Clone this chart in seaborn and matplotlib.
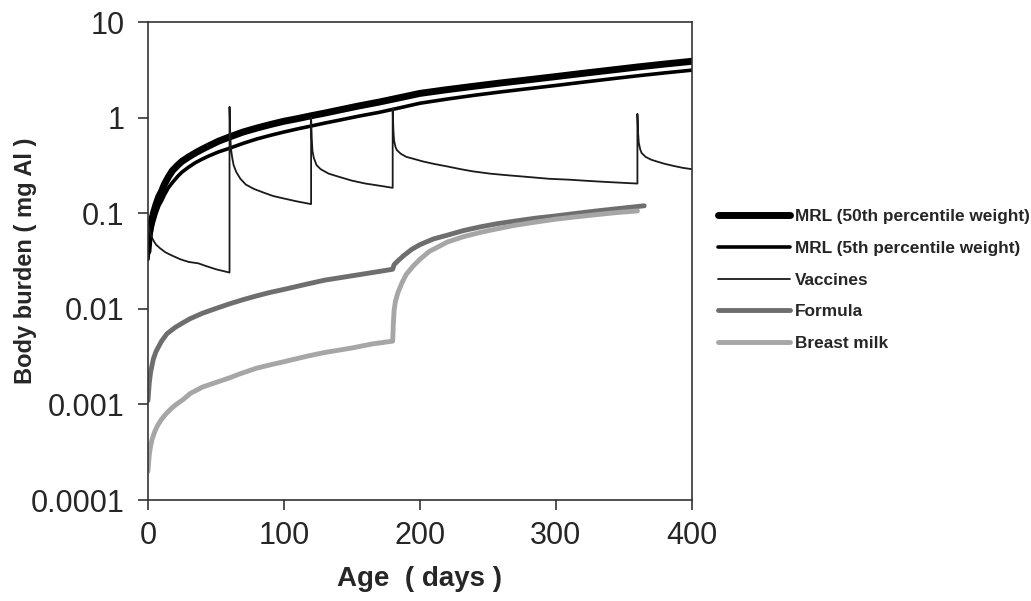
import numpy as np
import pandas as pd
import matplotlib
matplotlib.use("Agg")
import matplotlib.pyplot as plt
import seaborn as sns

# ==========================================
# 1. DATA
# ==========================================
mrl_days = [0, 1, 2, 3, 4, 6, 8, 10, 12, 15, 18, 22, 25, 30, 35, 40, 45, 52,
            60, 70, 80, 90, 100, 110, 120, 130, 140, 155, 170, 185, 200, 220,
            240, 260, 280, 300, 320, 340, 360, 380, 400]
mrl_50th = [0.04, 0.06, 0.075, 0.088, 0.1, 0.125, 0.15, 0.17, 0.2, 0.24, 0.28,
            0.32, 0.35, 0.39, 0.43, 0.47, 0.51, 0.57, 0.63, 0.71, 0.78, 0.85,
            0.92, 0.98, 1.05, 1.12, 1.2, 1.33, 1.46, 1.62, 1.8, 1.97, 2.14,
            2.32, 2.5, 2.7, 2.92, 3.15, 3.4, 3.65, 3.9]
mrl_5th = [0.033, 0.048, 0.06, 0.07, 0.08, 0.1, 0.12, 0.135, 0.155, 0.185,
           0.21, 0.245, 0.27, 0.305, 0.34, 0.37, 0.4, 0.44, 0.48, 0.54, 0.6,
           0.655, 0.71, 0.765, 0.82, 0.88, 0.94, 1.04, 1.14, 1.27, 1.42, 1.57,
           1.72, 1.87, 2.02, 2.18, 2.36, 2.55, 2.75, 2.95, 3.15]

vacc_days = [0, 1, 2, 4, 6, 9, 13, 18, 24, 30, 37, 43, 50, 60,
             60, 60.5, 61, 62, 63, 65, 68, 72, 78, 85, 92, 100, 110, 120,
             120, 120.5, 121, 122, 124, 127, 133, 141, 150, 160, 170, 180,
             180, 180.5, 181, 182, 183, 186, 190, 196, 202, 210, 220, 230, 239,
             252, 265, 280, 295, 310, 325, 340, 360,
             360, 360.5, 361, 362, 363, 366, 370, 374, 380, 386, 393, 400]
vacc_vals = [0.08, 0.068, 0.06, 0.052, 0.047, 0.043, 0.039, 0.036, 0.033,
             0.031, 0.03, 0.028, 0.026, 0.024,
             1.3, 0.7, 0.48, 0.38, 0.32, 0.27, 0.23, 0.2, 0.18, 0.165, 0.152,
             0.143, 0.133, 0.125,
             1.0, 0.6, 0.45, 0.38, 0.32, 0.29, 0.26, 0.24, 0.22, 0.205, 0.195,
             0.185,
             1.25, 0.75, 0.58, 0.5, 0.46, 0.42, 0.39, 0.37, 0.35, 0.33, 0.31,
             0.29, 0.275, 0.26, 0.25, 0.24, 0.23, 0.225, 0.218, 0.212, 0.205,
             1.1, 0.7, 0.55, 0.47, 0.43, 0.39, 0.365, 0.35, 0.33, 0.315, 0.3,
             0.29]

formula_days = [0, 1, 2, 4, 6, 10, 14, 20, 26, 31, 40, 50, 60, 70, 80, 90, 100,
                117, 130, 150, 165, 180, 181, 184, 188, 194, 200, 210, 220, 232,
                244, 257, 270, 285, 300, 315, 330, 348, 365]
formula_vals = [0.0011, 0.0017, 0.0022, 0.003, 0.0036, 0.0046, 0.0055, 0.0064,
                0.0072, 0.0079, 0.009, 0.0101, 0.0113, 0.0125, 0.0137, 0.0149,
                0.016, 0.0182, 0.02, 0.0222, 0.024, 0.026, 0.029, 0.032, 0.036,
                0.042, 0.047, 0.054, 0.059, 0.066, 0.072, 0.078, 0.083, 0.089,
                0.094, 0.1, 0.106, 0.113, 0.12]

milk_days = [0, 0.5, 1, 2, 3, 5, 7, 10, 14, 18, 22, 26, 31, 40, 50, 60, 68, 80,
             90, 100, 117, 130, 150, 165, 180, 180.5, 181, 182, 184, 187, 190,
             195, 200, 207, 214, 220, 232, 244, 257, 270, 285, 300, 315, 330,
             345, 360]
milk_vals = [0.0002, 0.00025, 0.0003, 0.00037, 0.00043, 0.00052, 0.0006,
             0.0007, 0.00082, 0.00093, 0.00103, 0.00113, 0.0013, 0.00152,
             0.0017, 0.0019, 0.0021, 0.0024, 0.0026, 0.0028, 0.0032, 0.0035,
             0.0039, 0.0043, 0.0046, 0.007, 0.0095, 0.012, 0.015, 0.019, 0.023,
             0.028, 0.033, 0.04, 0.045, 0.05, 0.057, 0.063, 0.069, 0.075,
             0.081, 0.087, 0.092, 0.097, 0.102, 0.106]

y_ticks = [0.0001, 0.001, 0.01, 0.1, 1, 10]
y_tick_labels = ["0.0001", "0.001", "0.01", "0.1", "1", "10"]
x_ticks = [0, 100, 200, 300, 400]

# ==========================================
# 2. PLOT
# ==========================================
sns.set_theme(style="white")
plt.rcParams['font.family'] = ['Liberation Sans', 'DejaVu Sans']

fig = plt.figure(figsize=(10.31, 6.01), dpi=100)
ax = fig.add_axes([0.1435, 0.168, 0.5275, 0.795])

series = [
    ("MRL (50th percentile weight)", mrl_days, mrl_50th, "black", 5.0),
    ("MRL (5th percentile weight)", mrl_days, mrl_5th, "black", 2.6),
    ("Vaccines", vacc_days, vacc_vals, "#1a1a1a", 1.3),
    ("Formula", formula_days, formula_vals, "#6e6e6e", 3.5),
    ("Breast milk", milk_days, milk_vals, "#a6a6a6", 3.5),
]

for name, days, vals, color, lw in series:
    df = pd.DataFrame({"day": days, "burden": vals})
    sns.lineplot(data=df, x="day", y="burden", ax=ax, estimator=None,
                 sort=False, color=color, linewidth=lw, label=name)

ax.set_yscale("log")
ax.set_ylim(0.0001, 10)
ax.set_xlim(0, 400)
ax.set_yticks(y_ticks)
ax.set_yticklabels(y_tick_labels)
ax.set_xticks(x_ticks)
ax.minorticks_off()
ax.tick_params(axis="both", labelsize=22, direction="out", length=7,
               width=1.2, color="#333333", left=True, bottom=True)
ax.tick_params(axis="y", pad=10)
ax.tick_params(axis="x", pad=8)

for sp in ax.spines.values():
    sp.set_color("#333333")
    sp.set_linewidth(1.2)

ax.set_xlabel("Age  ( days )", fontsize=20, fontweight="bold", labelpad=11)
ax.set_ylabel("Body burden ( mg Al )", fontsize=17, fontweight="bold",
              labelpad=-5)

leg = ax.legend(loc="center left", bbox_to_anchor=(0.696, 0.534),
                bbox_transform=fig.transFigure, frameon=False,
                borderpad=0, borderaxespad=0,
                handlelength=4.2, handletextpad=0.3, labelspacing=0.96,
                prop={"size": 12.4, "weight": "bold"})

plt.savefig("out.png", dpi=100)
